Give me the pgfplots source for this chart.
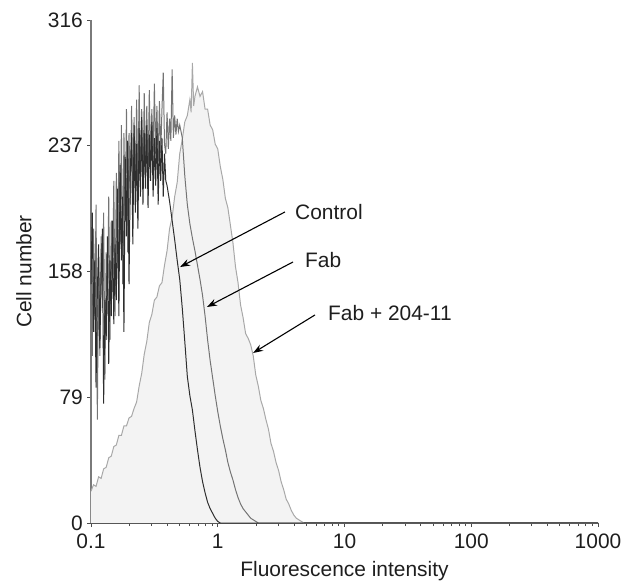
\documentclass[border=0pt]{standalone}
\usepackage{pgfplots}
\pgfplotsset{compat=1.18}
\usepackage{pgfplotstable}
\usepackage{fontspec}
\setmainfont{Liberation Sans}
\usetikzlibrary{arrows.meta}

\pgfplotstableread{
lx c
-1.00 150
-0.99 195
-0.98 120
-0.97 165
-0.96 85
-0.95 145
-0.94 175
-0.93 110
-0.92 155
-0.91 185
-0.90 75
-0.89 140
-0.88 115
-0.87 180
-0.86 100
-0.85 165
-0.84 130
-0.83 190
-0.82 125
-0.81 175
-0.80 140
-0.79 210
-0.78 130
-0.77 225
-0.76 165
-0.75 205
-0.74 120
-0.73 230
-0.72 180
-0.71 240
-0.70 150
-0.69 220
-0.68 245
-0.67 175
-0.66 250
-0.65 195
-0.64 238
-0.63 185
-0.62 248
-0.61 205
-0.60 255
-0.59 200
-0.58 245
-0.57 210
-0.56 250
-0.55 198
-0.54 244
-0.53 215
-0.52 252
-0.51 205
-0.50 242
-0.49 212
-0.48 248
-0.47 200
-0.46 240
-0.45 215
-0.44 242
-0.43 205
-0.42 232
-0.41 215
-0.40 212
-0.38 202
-0.36 190
-0.34 178
-0.32 165
-0.30 153
-0.28 135
-0.26 114
-0.24 92
-0.22 80
-0.20 71
-0.18 58
-0.16 46
-0.14 35
-0.12 26
-0.10 19
-0.08 13
-0.06 9
-0.04 6
-0.02 3
0.00 1
0.02 0
3.00 0
}\controldata

\pgfplotstableread{
lx f
-1.00 170
-0.99 105
-0.98 185
-0.97 130
-0.96 200
-0.95 65
-0.94 165
-0.93 105
-0.92 180
-0.91 135
-0.90 195
-0.89 90
-0.88 170
-0.87 140
-0.86 205
-0.85 115
-0.84 190
-0.83 145
-0.82 215
-0.81 130
-0.80 220
-0.79 160
-0.78 240
-0.77 175
-0.76 250
-0.75 150
-0.74 245
-0.73 190
-0.72 260
-0.71 170
-0.70 245
-0.69 200
-0.68 262
-0.67 205
-0.66 255
-0.65 210
-0.64 266
-0.63 205
-0.62 275
-0.61 215
-0.60 260
-0.59 210
-0.58 270
-0.57 220
-0.56 262
-0.55 215
-0.54 272
-0.53 225
-0.52 260
-0.51 228
-0.50 276
-0.49 232
-0.48 262
-0.47 225
-0.46 265
-0.45 232
-0.44 260
-0.43 283
-0.42 238
-0.41 232
-0.40 258
-0.39 235
-0.38 254
-0.37 240
-0.36 285
-0.35 242
-0.34 256
-0.33 244
-0.32 254
-0.31 246
-0.30 250
-0.28 242
-0.26 218
-0.24 200
-0.22 188
-0.20 179
-0.18 171
-0.16 162
-0.14 153
-0.12 143
-0.10 130
-0.08 115
-0.06 102
-0.04 91
-0.02 80
0.00 70
0.02 61
0.04 53
0.06 46
0.08 38
0.10 32
0.12 27
0.14 21
0.16 16
0.18 12
0.20 9
0.22 7
0.24 5
0.26 3
0.28 2
0.30 1
0.32 0
3.00 0
}\fabdata

\pgfplotstableread{
lx g
-1.00 20
-0.98 24
-0.96 23
-0.94 29
-0.92 28
-0.90 34
-0.88 35
-0.86 41
-0.84 42
-0.82 48
-0.80 49
-0.78 55
-0.76 55
-0.74 61
-0.72 61
-0.70 66
-0.68 67
-0.66 72
-0.64 76
-0.62 86
-0.60 94
-0.58 106
-0.56 114
-0.54 126
-0.52 131
-0.50 140
-0.48 142
-0.46 149
-0.44 151
-0.42 162
-0.40 171
-0.38 185
-0.36 192
-0.34 205
-0.32 214
-0.30 232
-0.28 241
-0.26 252
-0.24 256
-0.22 266
-0.21 258
-0.20 289
-0.19 262
-0.18 268
-0.16 274
-0.14 268
-0.12 271
-0.10 260
-0.08 260
-0.06 250
-0.04 247
-0.02 238
0.00 235
0.02 224
0.04 216
0.06 204
0.08 198
0.10 187
0.12 176
0.14 161
0.16 151
0.18 137
0.20 129
0.22 119
0.24 116
0.26 112
0.28 105
0.30 93
0.32 86
0.34 77
0.36 72
0.38 65
0.40 59
0.42 50
0.44 45
0.46 38
0.48 33
0.50 26
0.52 21
0.54 15
0.56 12
0.58 8
0.60 5
0.62 3
0.64 2
0.66 1
0.68 0
3.00 0
}\fabplusdata

\definecolor{ctrlc}{HTML}{2E2E2E}
\definecolor{fabc}{HTML}{747474}
\definecolor{fabpc}{HTML}{A8A8A8}
\definecolor{fillc}{HTML}{F3F3F3}
\definecolor{axc}{HTML}{7A7A7A}
\definecolor{txtc}{HTML}{1E1E1E}

\begin{document}
\begin{tikzpicture}
\path[use as bounding box] (-91bp,-58bp) rectangle (537bp,523bp);
\begin{axis}[
  at={(0,0)}, anchor=south west,
  scale only axis,
  width=507bp, height=503bp,
  xmode=log,
  xmin=0.1, xmax=1000,
  ymin=0, ymax=316,
  axis lines*=left,
  x axis line style={draw=black!75, line width=1.1pt},
  y axis line style={draw=axc, line width=1.3pt},
  xtick={0.1,1,10,100,1000},
  xticklabels={0.1,1,10,100,1000},
  minor xtick={0.2,0.3,0.4,0.5,0.6,0.7,0.8,0.9,2,3,4,5,6,7,8,9,20,30,40,50,60,70,80,90,200,300,400,500,600,700,800,900},
  ytick={0,79,158,237,316},
  yticklabels={0,79,158,237,316},
  tick align=outside,
  major tick length=4bp,
  minor tick length=3bp,
  tick style={draw=black!70, line width=0.8pt},
  font=\fontsize{21}{25}\selectfont,
  xticklabel style={anchor=north, inner sep=0pt, yshift=-7bp, text=txtc},
  yticklabel style={anchor=east, inner sep=0pt, xshift=-4bp, text=txtc},
  xlabel={Fluorescence intensity},
  ylabel={Cell number},
  xlabel style={at={([yshift=-48bp]axis description cs:0.5,0)}, anchor=center, inner sep=0pt, text=txtc},
  ylabel style={at={([xshift=-67bp]axis description cs:0,0.5)}, anchor=center, inner sep=0pt, text=txtc},
  clip=false,
]
\addplot[draw=none, fill=fillc] table[x expr={10^\thisrow{lx}}, y=g] {\fabplusdata} \closedcycle;
\addplot[fabpc, line width=1pt] table[x expr={10^\thisrow{lx}}, y=g] {\fabplusdata};
\addplot[fabc, line width=1pt] table[x expr={10^\thisrow{lx}}, y=f] {\fabdata};
\addplot[ctrlc, line width=1pt] table[x expr={10^\thisrow{lx}}, y=c] {\controldata};

\draw[black, line width=1.1pt, -{Stealth[length=10bp,width=7bp]}] (axis cs:3.39,195.4) -- (axis cs:0.504,160.8);
\draw[black, line width=1.1pt, -{Stealth[length=10bp,width=7bp]}] (axis cs:3.93,164) -- (axis cs:0.822,135.7);
\draw[black, line width=1.1pt, -{Stealth[length=10bp,width=7bp]}] (axis cs:5.85,130.7) -- (axis cs:1.90,106.8);
\node[anchor=west, inner sep=0pt, text=txtc] at (axis cs:4.07,195.4) {Control};
\node[anchor=west, inner sep=0pt, text=txtc] at (axis cs:4.88,165) {Fab};
\node[anchor=west, inner sep=0pt, text=txtc] at (axis cs:7.41,132) {Fab + 204-11};
\end{axis}
\end{tikzpicture}
\end{document}
